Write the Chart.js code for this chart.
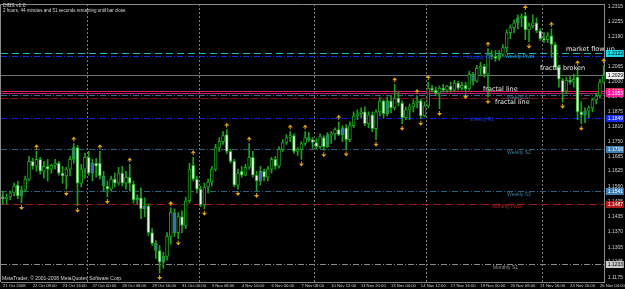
<!DOCTYPE html>
<html>
<head>
<meta charset="utf-8">
<script src="https://cdn.jsdelivr.net/npm/chart.js@4.4.0/dist/chart.umd.min.js"></script>
<style>
html,body{margin:0;padding:0;background:#000;}
#wrap{position:relative;width:625px;height:289px;}
</style>
</head>
<body>
<div id="wrap"><canvas id="c" width="625" height="289"></canvas></div>
<script>
// EURUSD H4, 21 Oct 2008 - 26 Nov 2008
var opens = [1.1516,1.1508,1.1516,1.1533,1.1566,1.1520,1.1545,1.1591,1.1666,1.1645,
1.1674,1.1624,1.1645,1.1633,1.1649,1.1658,1.1616,1.1604,1.1633,1.1674,
1.1724,1.1574,1.1633,1.1683,1.1616,1.1658,1.1658,1.1604,1.1562,1.1549,
1.1591,1.1574,1.1616,1.1574,1.1599,1.1570,1.1504,1.1512,1.1466,1.1479,
1.1366,1.1321,1.1291,1.1242,1.1266,1.1350,1.1450,1.1366,1.1433,1.1396,
1.1500,1.1649,1.1591,1.1549,1.1483,1.1558,1.1579,1.1633,1.1724,1.1749,
1.1778,1.1708,1.1666,1.1566,1.1624,1.1608,1.1641,1.1683,1.1608,1.1583,
1.1624,1.1599,1.1633,1.1674,1.1645,1.1716,1.1745,1.1766,1.1774,1.1708,
1.1716,1.1741,1.1766,1.1757,1.1745,1.1728,1.1766,1.1728,1.1778,1.1782,
1.1799,1.1778,1.1807,1.1757,1.1816,1.1857,1.1866,1.1874,1.1824,1.1861,
1.1803,1.1874,1.1920,1.1866,1.1920,1.1891,1.1932,1.1911,1.1849,1.1882,
1.1895,1.1911,1.1920,1.1857,1.1899,1.1974,1.1965,1.1953,1.1974,1.1965,
1.1982,1.1965,1.1995,1.1974,1.1986,1.1970,1.2032,1.2003,1.2057,1.2065,
1.2032,1.2115,1.2107,1.2099,1.2115,1.2144,1.2207,1.2228,1.2248,1.2269,
1.2278,1.2219,1.2236,1.2248,1.2215,1.2182,1.2178,1.2194,1.2157,1.2061,
1.2007,1.1961,1.2007,1.1999,1.2020,1.1874,1.1861,1.1878,1.1891,1.1924,
1.1941,1.1999];
var highs = [1.1541,1.1529,1.1541,1.1574,1.1583,1.1562,1.1604,1.1687,1.1678,1.1708,
1.1683,1.1666,1.1674,1.1653,1.1674,1.1666,1.1645,1.1641,1.1687,1.1741,
1.1733,1.1653,1.1699,1.1708,1.1674,1.1678,1.1708,1.1624,1.1583,1.1604,
1.1616,1.1641,1.1645,1.1624,1.1653,1.1583,1.1525,1.1554,1.1512,1.1487,
1.1383,1.1333,1.1312,1.1283,1.1366,1.1470,1.1466,1.1450,1.1458,1.1516,
1.1658,1.1683,1.1604,1.1562,1.1574,1.1591,1.1645,1.1737,1.1766,1.1791,
1.1799,1.1716,1.1674,1.1633,1.1645,1.1653,1.1741,1.1708,1.1624,1.1645,
1.1633,1.1645,1.1683,1.1687,1.1728,1.1757,1.1778,1.1791,1.1782,1.1724,
1.1749,1.1791,1.1787,1.1766,1.1762,1.1782,1.1774,1.1787,1.1791,1.1807,
1.1832,1.1816,1.1820,1.1832,1.1874,1.1882,1.1891,1.1895,1.1874,1.1874,
1.1882,1.1936,1.1924,1.1936,1.1941,1.1990,1.1957,1.1920,1.1895,1.1907,
1.1924,1.1941,1.1928,1.1916,1.1999,1.1986,1.1978,1.1982,1.1990,1.1986,
1.1999,1.2007,1.2003,1.1999,1.1999,1.2045,1.2040,1.2070,1.2082,1.2074,
1.2140,1.2132,1.2132,1.2132,1.2157,1.2219,1.2240,1.2261,1.2282,1.2286,
1.2294,1.2248,1.2282,1.2269,1.2223,1.2207,1.2207,1.2223,1.2165,1.2070,
1.2015,1.2020,1.2024,1.2032,1.2061,1.1916,1.1891,1.1899,1.1932,1.1953,
1.2011,1.2070];
var lows = [1.1487,1.1487,1.1504,1.1520,1.1508,1.1491,1.1537,1.1583,1.1633,1.1624,
1.1612,1.1595,1.1583,1.1616,1.1633,1.1608,1.1574,1.1549,1.1604,1.1658,
1.1479,1.1558,1.1595,1.1608,1.1583,1.1599,1.1591,1.1541,1.1516,1.1541,
1.1558,1.1566,1.1562,1.1549,1.1541,1.1491,1.1487,1.1425,1.1433,1.1354,
1.1312,1.1258,1.1196,1.1217,1.1250,1.1317,1.1350,1.1341,1.1366,1.1383,
1.1491,1.1583,1.1533,1.1475,1.1466,1.1533,1.1562,1.1624,1.1708,1.1737,
1.1699,1.1658,1.1558,1.1549,1.1599,1.1604,1.1633,1.1599,1.1541,1.1566,
1.1583,1.1583,1.1616,1.1633,1.1637,1.1708,1.1737,1.1749,1.1699,1.1691,
1.1674,1.1733,1.1749,1.1720,1.1716,1.1720,1.1712,1.1724,1.1741,1.1757,
1.1774,1.1749,1.1716,1.1749,1.1807,1.1841,1.1849,1.1816,1.1807,1.1791,
1.1757,1.1857,1.1849,1.1857,1.1870,1.1882,1.1899,1.1824,1.1841,1.1841,
1.1874,1.1891,1.1845,1.1853,1.1891,1.1957,1.1941,1.1886,1.1957,1.1957,
1.1957,1.1961,1.1965,1.1965,1.1957,1.1965,1.1986,1.1999,1.2028,1.2020,
1.1936,1.2095,1.2086,1.2090,1.2107,1.2124,1.2182,1.2207,1.2223,1.2232,
1.2178,1.2169,1.2228,1.2207,1.2174,1.2165,1.2165,1.2103,1.2057,1.1978,
1.1916,1.1949,1.1990,1.1978,1.1841,1.1824,1.1828,1.1849,1.1874,1.1907,
1.1932,1.1995];
var closes = [1.1508,1.1516,1.1533,1.1562,1.1520,1.1545,1.1591,1.1666,1.1645,1.1674,
1.1624,1.1645,1.1633,1.1649,1.1658,1.1616,1.1604,1.1633,1.1674,1.1724,
1.1574,1.1633,1.1683,1.1616,1.1658,1.1645,1.1604,1.1562,1.1549,1.1591,
1.1574,1.1616,1.1574,1.1599,1.1574,1.1504,1.1512,1.1466,1.1479,1.1366,
1.1321,1.1291,1.1242,1.1266,1.1350,1.1450,1.1366,1.1433,1.1396,1.1500,
1.1633,1.1591,1.1549,1.1483,1.1558,1.1579,1.1633,1.1724,1.1749,1.1774,
1.1708,1.1666,1.1566,1.1616,1.1608,1.1641,1.1683,1.1608,1.1583,1.1624,
1.1599,1.1633,1.1674,1.1645,1.1716,1.1745,1.1766,1.1774,1.1708,1.1716,
1.1741,1.1766,1.1757,1.1745,1.1728,1.1770,1.1728,1.1778,1.1782,1.1799,
1.1778,1.1807,1.1757,1.1816,1.1857,1.1866,1.1874,1.1824,1.1861,1.1803,
1.1874,1.1920,1.1866,1.1920,1.1891,1.1932,1.1911,1.1849,1.1882,1.1895,
1.1911,1.1920,1.1857,1.1899,1.1974,1.1965,1.1953,1.1974,1.1965,1.1982,
1.1965,1.1995,1.1974,1.1986,1.1970,1.2032,1.2003,1.2057,1.2065,1.2032,
1.2115,1.2107,1.2099,1.2115,1.2144,1.2207,1.2228,1.2248,1.2269,1.2278,
1.2219,1.2236,1.2248,1.2215,1.2182,1.2178,1.2194,1.2157,1.2061,1.2011,
1.1957,1.2007,1.1999,1.2011,1.1874,1.1861,1.1878,1.1891,1.1924,1.1941,
1.1999,1.2028];

// bars painted blue by the DIBS indicator
var markedBars = [5,19,24,27,36,38,41,43,46,69,82,87,91,103,126,131,133,138,156];
var fractalUp = [9,19,26,34,45,51,60,66,77,81,90,105,111,114,130,140,147,154,161];
var fractalDown = [5,17,20,28,42,47,54,63,68,80,86,92,100,107,112,117,124,130,141,150,155];
var weekStarts = [23,53,84,114,145];

var timeLabels = ['21 Oct 2008','22 Oct 08:00','23 Oct 16:00','27 Oct 00:00','28 Oct 08:00',
'29 Oct 16:00','31 Oct 00:00','3 Nov 08:00','4 Nov 16:00','6 Nov 00:00','7 Nov 08:00',
'10 Nov 12:00','11 Nov 20:00','13 Nov 04:00','14 Nov 12:00','17 Nov 16:00','19 Nov 00:00',
'20 Nov 08:00','21 Nov 16:00','24 Nov 20:00','26 Nov 04:00'];
var priceTicks = [1.2315,1.2255,1.2190,1.2125,1.2065,1.2000,1.1940,1.1875,1.1810,1.1750,
1.1685,1.1625,1.1560,1.1495,1.1435,1.1370,1.1305,1.1245,1.1175];

var levelNames = ['Weekly Pivot','Monthly R1','fractal high','fractal low','Weekly S1','fractal line',
'Weekly R1','Weekly S2','Weekly S3','Monthly Pivot','Monthly S1'];
var levelValues = [1.2122,1.2108,1.1961,1.1953,1.1945,1.1932,1.1849,1.1716,1.1541,1.1487,1.1233];
var bidPrice = 1.2029;

var levelStyle = {
  'Weekly Pivot': {c:'#1fb5c8', dash:[7,4], box:'#19d8e8', txt:'#000'},
  'Monthly R1': {c:'#1030e0', dash:[6,2,1,2], box:null},
  'fractal high': {c:'#e0205a', dash:[], box:'#e0205a', txt:'#fff'},
  'fractal low': {c:'#c01a80', dash:[], box:'#ff1aa0', txt:'#fff'},
  'Weekly S1': {c:'#2d6f8c', dash:[6,2,1,2], box:null},
  'fractal line': {c:'#8a1010', dash:[7,3], box:null},
  'Weekly R1': {c:'#1020e8', dash:[6,2,1,2], box:'#1428f0', txt:'#fff'},
  'Weekly S2': {c:'#2d5f80', dash:[6,2,1,2], box:'#3c7fb4', txt:'#fff'},
  'Weekly S3': {c:'#2d5f80', dash:[6,2,1,2], box:'#3c7fb4', txt:'#fff'},
  'Monthly Pivot': {c:'#a01818', dash:[8,4], box:'#b01c1c', txt:'#fff'},
  'Monthly S1': {c:'#8a8a8a', dash:[6,2,1,2], box:'#c8c8c8', txt:'#000'}
};

var WICK = '#1ea01e';
var SMALL = '"Liberation Sans"';
var bars = opens.map(function(o, i){ return i; });

function bodyColor(c){
  var i = c.dataIndex;
  if (markedBars.indexOf(i) >= 0) return '#3a68cc';
  return closes[i] < opens[i] ? '#eaffea' : '#000000';
}

function arrow(ctx, x, y, up){
  ctx.beginPath();
  if (up){
    ctx.moveTo(x, y - 2); ctx.lineTo(x + 2.5, y + 1); ctx.lineTo(x - 2.5, y + 1);
  } else {
    ctx.moveTo(x, y + 2); ctx.lineTo(x + 2.5, y - 1); ctx.lineTo(x - 2.5, y - 1);
  }
  ctx.closePath(); ctx.fill();
  ctx.fillRect(x - 0.5, up ? y + 1 : y - 3, 1, 2);
}

var overlay = {
  id: 'overlay',
  beforeDatasetsDraw: function(chart){
    var ctx = chart.ctx, a = chart.chartArea, xs = chart.scales.x, ys = chart.scales.y;
    ctx.save();
    ctx.beginPath(); ctx.rect(a.left, a.top, a.right - a.left, a.bottom - a.top); ctx.clip();
    ctx.lineWidth = 1;
    // week separators
    ctx.strokeStyle = '#7a7a7a'; ctx.setLineDash([2, 2]);
    weekStarts.forEach(function(i){
      var x = Math.round(xs.getPixelForValue(i - 0.5)) + 0.5;
      ctx.beginPath(); ctx.moveTo(x, a.top); ctx.lineTo(x, a.bottom); ctx.stroke();
    });
    // bid line
    ctx.setLineDash([]); ctx.strokeStyle = '#707070';
    var yb = Math.round(ys.getPixelForValue(bidPrice)) + 0.5;
    ctx.beginPath(); ctx.moveTo(a.left, yb); ctx.lineTo(a.right, yb); ctx.stroke();
    // levels
    levelNames.forEach(function(n, k){
      var s = levelStyle[n];
      var y = Math.round(ys.getPixelForValue(levelValues[k])) + 0.5;
      ctx.strokeStyle = s.c; ctx.setLineDash(s.dash);
      ctx.beginPath(); ctx.moveTo(a.left, y); ctx.lineTo(a.right, y); ctx.stroke();
    });
    ctx.restore();
  },
  afterDatasetsDraw: function(chart){
    var ctx = chart.ctx, xs = chart.scales.x, ys = chart.scales.y;
    ctx.save();
    ctx.fillStyle = '#e0a412';
    fractalUp.forEach(function(i){
      arrow(ctx, xs.getPixelForValue(i), ys.getPixelForValue(highs[i]) - 5, true);
    });
    fractalDown.forEach(function(i){
      arrow(ctx, xs.getPixelForValue(i), ys.getPixelForValue(lows[i]) + 5, false);
    });
    // level captions
    ctx.font = '5px ' + SMALL; ctx.textBaseline = 'middle';
    var cap = [['Monthly R1', 467, 1.2103, '#1a3ad8'], ['Weekly Pivot', 505, 1.2105, '#1fb5c8'],
      ['Weekly S1', 507, 1.1934, '#3a7f9c'], ['Weekly R1', 470, 1.1840, '#1a3ad8'],
      ['Weekly S2', 507, 1.1702, '#3a7f9c'], ['Weekly S3', 507, 1.1527, '#3a7f9c'],
      ['Monthly Pivot', 492, 1.1474, '#b02020'], ['Monthly S1', 493, 1.1219, '#9a9a9a']];
    cap.forEach(function(c){ ctx.fillStyle = c[3]; ctx.fillText(c[0], c[1], ys.getPixelForValue(c[2])); });
    // notes
    ctx.font = '6.5px "DejaVu Sans"'; ctx.fillStyle = '#e6e6e6';
    ctx.fillText('market flow up', 566, ys.getPixelForValue(1.2138));
    ctx.fillText('fractal broken', 540, ys.getPixelForValue(1.2057));
    ctx.fillText('fractal line', 483, ys.getPixelForValue(1.1970));
    ctx.fillText('fractal line', 495, ys.getPixelForValue(1.1912));
    ctx.restore();
  },
  afterDraw: function(chart){
    var ctx = chart.ctx, a = chart.chartArea, ys = chart.scales.y;
    ctx.save();
    ctx.strokeStyle = '#8a8a8a'; ctx.lineWidth = 1;
    ctx.beginPath(); ctx.moveTo(0.5, a.bottom); ctx.lineTo(0.5, a.top + 0.5); ctx.lineTo(a.right, a.top + 0.5); ctx.stroke();
    // price boxes
    ctx.font = '5px ' + SMALL; ctx.textBaseline = 'middle';
    function box(v, bg, fg){
      var y = Math.round(ys.getPixelForValue(v));
      ctx.fillStyle = bg; ctx.fillRect(a.right + 1, y - 3, 18, 7);
      ctx.fillStyle = fg; ctx.fillText(v.toFixed(4), a.right + 3, y + 0.5);
    }
    levelNames.forEach(function(n, k){
      var s = levelStyle[n];
      if (s.box) box(levelValues[k], s.box, s.txt);
    });
    box(bidPrice, '#f0f0f0', '#000');
    // header and footer text
    ctx.fillStyle = '#d8d8d8'; ctx.textBaseline = 'alphabetic';
    ctx.fillText('DIBS v1.0', 3, 7);
    ctx.font = '4.5px ' + SMALL;
    ctx.fillText('2 hours, 44 minutes and 51 seconds remaining until bar close', 3, 12);
    ctx.font = '5px ' + SMALL;
    ctx.fillText('MetaTrader, \u00a9 2001-2008 MetaQuotes Software Corp.', 2, 280);
    ctx.restore();
  }
};

var chart = new Chart(document.getElementById('c'), {
  type: 'bar',
  data: {
    datasets: [{
      label: 'range',
      data: bars.map(function(i){ return {x: i, y: [lows[i], highs[i]]}; }),
      backgroundColor: WICK,
      barThickness: 1,
      grouped: false,
      order: 2
    }, {
      label: 'body',
      data: bars.map(function(i){ return {x: i, y: [opens[i], closes[i]]}; }),
      backgroundColor: bodyColor,
      borderColor: WICK,
      borderWidth: 1,
      borderSkipped: false,
      barThickness: 3,
      grouped: false,
      order: 1
    }]
  },
  options: {
    responsive: false,
    animation: false,
    layout: {padding: {left: 1, top: 1, right: 0, bottom: 0}},
    plugins: {legend: {display: false}, tooltip: {enabled: false}},
    scales: {
      x: {
        type: 'linear', min: -0.5, max: 161.3, offset: false,
        grid: {display: false, drawTicks: true, tickLength: 1},
        border: {color: '#8a8a8a'},
        ticks: {
          color: '#cfcfcf', font: {size: 4.2, family: 'Liberation Sans'},
          align: 'start', maxRotation: 0, autoSkip: false, padding: 0,
          callback: function(v){ return v % 8 === 0 ? timeLabels[v / 8] : ''; }
        },
        afterBuildTicks: function(s){ s.ticks = timeLabels.map(function(t, k){ return {value: k * 8}; }); },
        afterFit: function(s){ s.height = 7; }
      },
      y: {
        type: 'linear', position: 'right', min: 1.11584, max: 1.23275,
        grid: {display: false, drawTicks: true, tickLength: 2},
        border: {color: '#8a8a8a'},
        ticks: {
          color: '#cfcfcf', font: {size: 5, family: 'Liberation Sans'},
          padding: 1, autoSkip: false,
          callback: function(v){ return v.toFixed(4); }
        },
        afterBuildTicks: function(s){ s.ticks = priceTicks.map(function(v){ return {value: v}; }); },
        afterFit: function(s){ s.width = 19; }
      }
    }
  },
  plugins: [overlay]
});
</script>
</body>
</html>
